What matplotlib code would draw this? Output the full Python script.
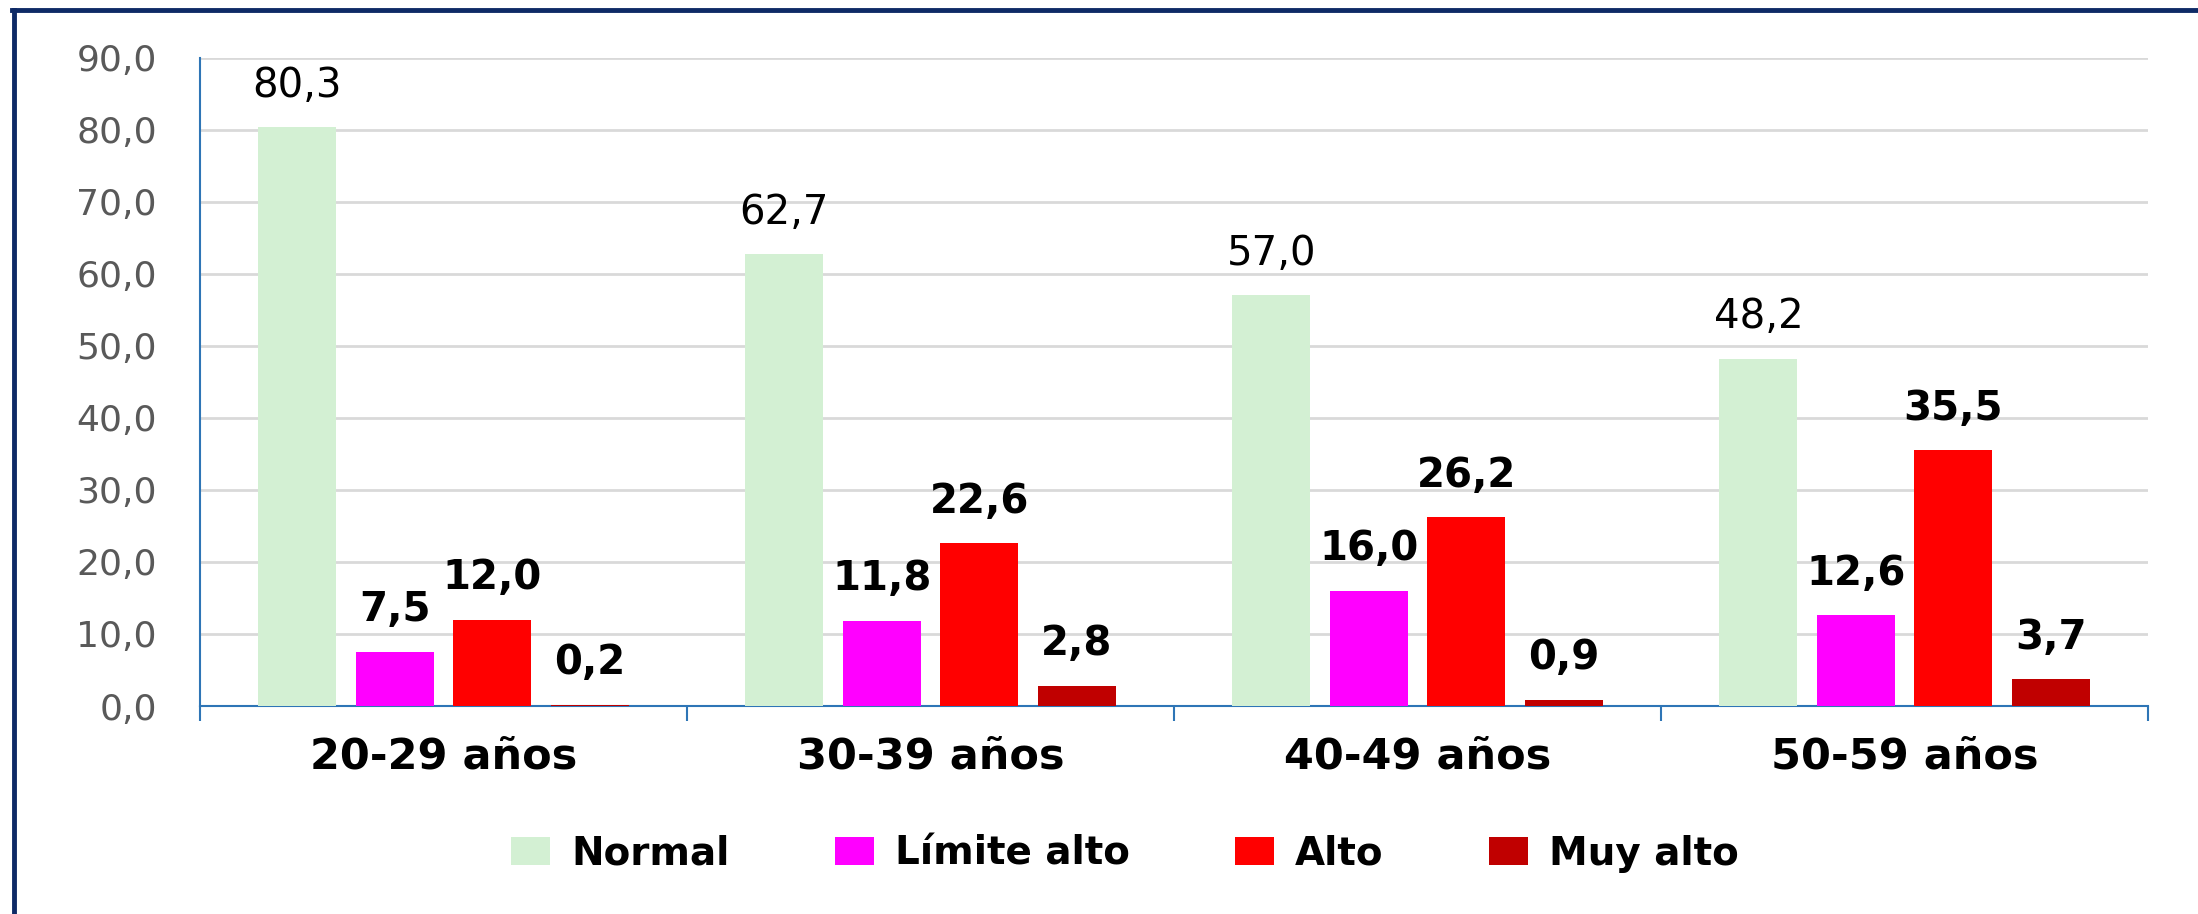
import numpy as np
import matplotlib.pyplot as plt
from matplotlib.lines import Line2D
from matplotlib.ticker import FuncFormatter

grupos = ['20-29 años', '30-39 años', '40-49 años', '50-59 años']
series = ['Normal', 'Límite alto', 'Alto', 'Muy alto']
normal = [80.3, 62.7, 57.0, 48.2]
limite_alto = [7.5, 11.8, 16.0, 12.6]
alto = [12.0, 22.6, 26.2, 35.5]
muy_alto = [0.2, 2.8, 0.9, 3.7]
colores = ['#D3F0D3', '#FF00FF', '#FF0000', '#C00000']

valores = [normal, limite_alto, alto, muy_alto]
azul = '#2E75B6'

fig = plt.figure(figsize=(21.98, 9.14), dpi=100)
ax = fig.add_axes([200/2198, 1-706/914, (2148-200)/2198, (706-57.5)/914])

x = np.arange(len(grupos))
paso, ancho = 0.2, 0.16
for i, (nombre, vals, col) in enumerate(zip(series, valores, colores)):
    pos = x + (i - 1.5) * paso
    bars = ax.bar(pos, vals, width=ancho, color=col, label=nombre, zorder=3)
    peso = 'normal' if i == 0 else 'bold'
    for b, v in zip(bars, vals):
        ax.annotate(f'{v:.1f}'.replace('.', ','),
                    (b.get_x() + b.get_width()/2, v),
                    xytext=(0, 22), textcoords='offset points',
                    ha='center', va='baseline', fontsize=29,
                    fontweight=peso, family='DejaVu Sans', color='black')

ax.set_xlim(-0.5, 3.5)
ax.set_ylim(0, 90)
ax.set_yticks(np.arange(0, 91, 10))
ax.yaxis.set_major_formatter(FuncFormatter(lambda v, p: f'{v:.1f}'.replace('.', ',')))
ax.tick_params(axis='y', length=0, pad=31, labelsize=26, labelcolor='#595959')
ax.grid(axis='y', color='#D9D9D9', linewidth=2, zorder=0)

ax.set_xticks(np.arange(-0.5, 4, 1))
ax.set_xticklabels([])
ax.set_xticks(x, minor=True)
ax.set_xticklabels(grupos, minor=True, fontsize=31, fontweight='bold')
ax.tick_params(axis='x', which='major', length=11, width=1.5, color=azul)
ax.tick_params(axis='x', which='minor', length=0, pad=21)

for s in ['top', 'right']:
    ax.spines[s].set_visible(False)
for s in ['left', 'bottom']:
    ax.spines[s].set_color(azul)
    ax.spines[s].set_linewidth(1.5)

fig.legend(loc='center', bbox_to_anchor=(1125/2198, 0.066), ncol=4, frameon=False,
           prop={'size': 28, 'weight': 'bold'}, handlelength=1.0, handleheight=0.7,
           handletextpad=0.55, columnspacing=2.7)

navy = '#0E2A66'
fig.add_artist(Line2D([12/2198, 1], [1-10/914, 1-10/914], color=navy, linewidth=3.5))
fig.add_artist(Line2D([14/2198, 14/2198], [0, 1-10/914], color=navy, linewidth=3.5))

fig.savefig('out.png', dpi=100)
